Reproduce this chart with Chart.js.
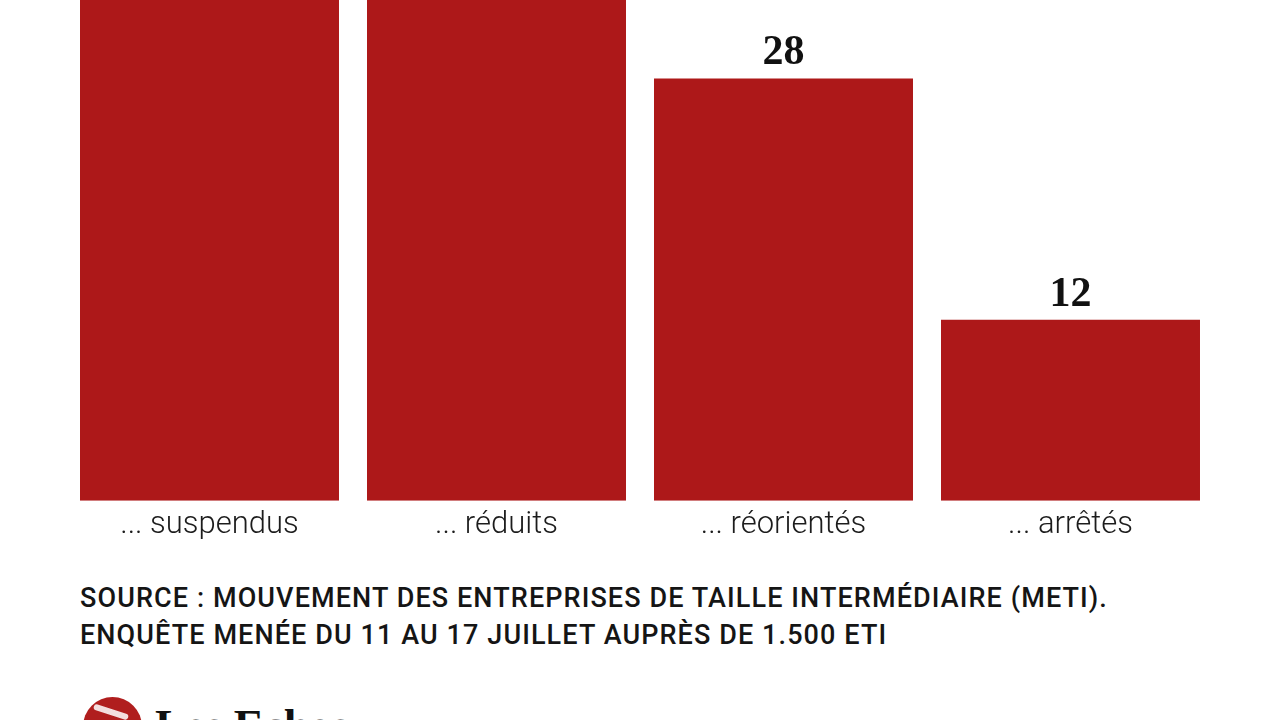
<!DOCTYPE html>
<html>
<head>
<meta charset="utf-8">
<script src="https://cdn.jsdelivr.net/npm/chart.js@4"></script>
<style>
  html, body { margin: 0; padding: 0; background: #fff; width: 1280px; height: 720px; overflow: hidden; }
  #wrap { position: absolute; left: 0; top: 0; width: 1280px; height: 560px; }
  .source { position: absolute; left: 80px; font-family: Roboto, sans-serif; font-weight: 500; font-size: 27px; letter-spacing: 1.1px; color: #151515; white-space: nowrap; }
  #logo { position: absolute; left: 83px; top: 697px; width: 59px; height: 59px; border-radius: 50%; background: #b01e1e; overflow: hidden; }
  #logo span { position: absolute; left: 10px; top: 12px; width: 36px; height: 6px; background: #f3dede; transform: rotate(18deg); border-radius: 3px; }
  #brand { position: absolute; left: 155px; top: 699px; font-family: "Liberation Serif", serif; font-weight: bold; font-size: 45px; color: #111; }
</style>
</head>
<body>
<div id="wrap"><canvas id="chart"></canvas></div>
<div class="source" style="top:582px">SOURCE : MOUVEMENT DES ENTREPRISES DE TAILLE INTERMÉDIAIRE (METI).</div>
<div class="source" style="top:619px">ENQUÊTE MENÉE DU 11 AU 17 JUILLET AUPRÈS DE 1.500 ETI</div>
<div id="logo"><span></span></div>
<div id="brand">Les Echos</div>
<script>
// projets ... (en %)
const categories = ["... suspendus", "... réduits", "... réorientés", "... arrêtés"];
// the first two bars run off the top of the picture: values estimated
const values = [45, 40, 28, 12];

const barColor = "#ad1819";

// draw value labels above the bars that fit in the visible area
const valueLabels = {
  id: "valueLabels",
  afterDatasetsDraw(chart) {
    const ctx = chart.ctx;
    const meta = chart.getDatasetMeta(0);
    ctx.save();
    ctx.font = "bold 42px 'Liberation Serif', serif";
    ctx.fillStyle = "#111";
    ctx.textAlign = "center";
    ctx.textBaseline = "alphabetic";
    meta.data.forEach((bar, i) => {
      if (bar.y - 50 < chart.chartArea.top) return;
      ctx.fillText(values[i], bar.x, bar.y - 14);
    });
    ctx.restore();
  }
};

new Chart(document.getElementById("chart"), {
  type: "bar",
  data: {
    labels: categories,
    datasets: [{
      data: values,
      backgroundColor: barColor,
      borderWidth: 0,
      categoryPercentage: 1,
      barPercentage: 0.9024
    }]
  },
  options: {
    responsive: true,
    maintainAspectRatio: false,
    animation: false,
    layout: { padding: { left: 66, right: 66, top: 0, bottom: 10 } },
    plugins: {
      legend: { display: false },
      tooltip: { enabled: false }
    },
    scales: {
      x: {
        grid: { display: false, drawTicks: false },
        border: { display: false },
        ticks: {
          padding: 6,
          color: "#1c1c1c",
          font: { family: "Roboto", weight: 300, size: 31 }
        }
      },
      y: {
        display: false,
        min: 0,
        max: 33.2
      }
    }
  },
  plugins: [valueLabels]
});
</script>
</body>
</html>
